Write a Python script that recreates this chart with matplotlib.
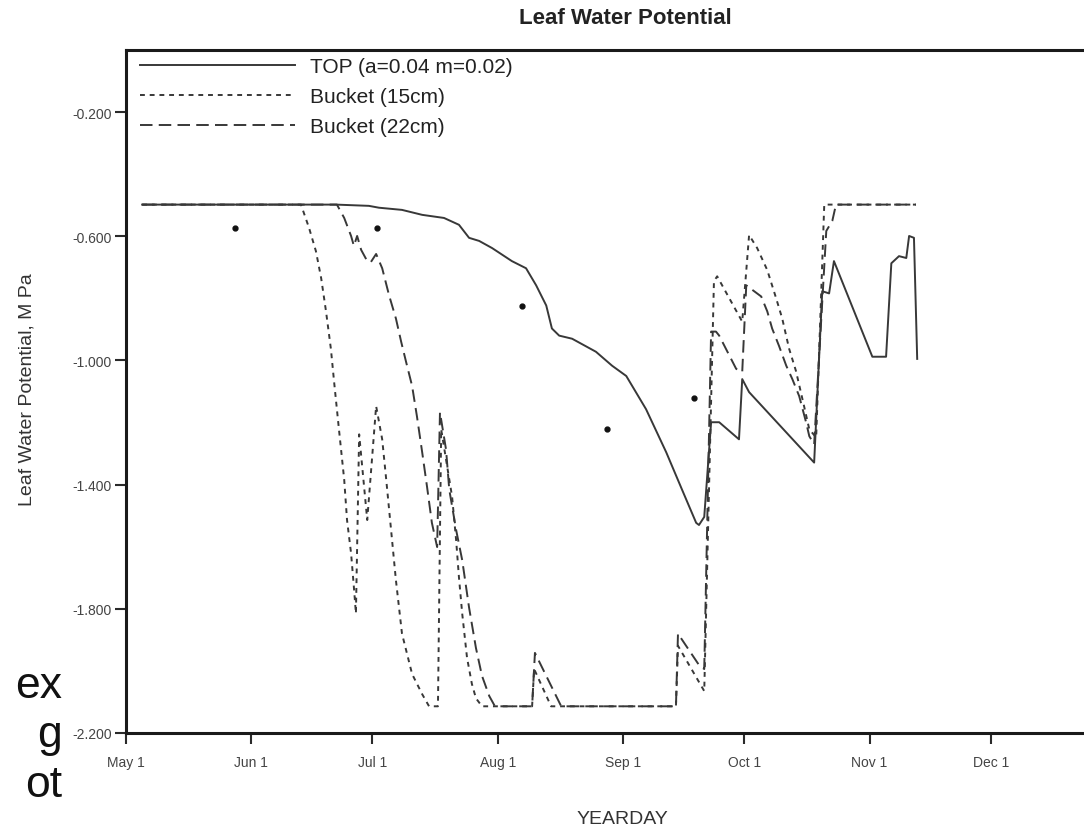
import matplotlib
matplotlib.use('Agg')
import matplotlib.pyplot as plt

plt.rcParams['font.family'] = ['Liberation Sans', 'DejaVu Sans']
plt.rcParams['lines.scale_dashes'] = False

# ---------------- data (yearday, leaf water potential MPa) ----------------
top_day = [125.0, 173.0, 181.1, 183.6, 189.3, 194.3, 199.7, 203.4, 205.9, 208.4,
           211.6, 216.5, 220.0, 222.5, 225.0, 226.4, 228.2, 231.4, 237.3, 241.3,
           244.8, 249.7, 254.7, 258.6, 262.1, 262.8, 264.1, 265.8, 267.8, 272.7,
           273.5, 275.2, 291.3, 293.3, 295.0, 296.2, 305.7, 309.1, 310.4, 312.3,
           314.1, 314.8, 316.0, 316.8]
top_lwp = [-0.498, -0.498, -0.502, -0.508, -0.515, -0.531, -0.541, -0.563, -0.605, -0.615,
           -0.638, -0.680, -0.703, -0.758, -0.823, -0.897, -0.920, -0.930, -0.972, -1.017,
           -1.050, -1.157, -1.296, -1.416, -1.523, -1.530, -1.504, -1.199, -1.199, -1.254,
           -1.060, -1.102, -1.329, -0.777, -0.784, -0.680, -0.988, -0.988, -0.687, -0.664,
           -0.670, -0.599, -0.605, -0.995]

b15_day = [125.0, 164.3, 166.3, 168.0, 169.3, 170.5, 171.7, 172.5, 173.7, 175.0,
           175.7, 176.7, 177.4, 177.9, 178.7, 180.7, 182.9, 184.4, 185.4, 186.6,
           187.8, 189.3, 191.8, 194.3, 196.0, 198.2, 199.0, 200.2, 201.7, 202.7,
           203.4, 204.2, 205.4, 206.6, 207.6, 209.1, 221.5, 222.0, 226.2, 257.1,
           257.6, 264.1, 266.5, 267.3, 273.5, 275.2, 277.2, 279.7, 281.9, 283.4,
           285.1, 286.8, 288.8, 290.1, 291.8, 293.8, 316.5]
b15_lwp = [-0.498, -0.498, -0.573, -0.648, -0.735, -0.842, -0.962, -1.069, -1.222, -1.384,
           -1.514, -1.621, -1.731, -1.815, -1.238, -1.514, -1.147, -1.254, -1.384, -1.546,
           -1.708, -1.880, -2.010, -2.075, -2.114, -2.114, -1.222, -1.319, -1.439, -1.579,
           -1.699, -1.815, -1.958, -2.042, -2.088, -2.114, -2.114, -1.994, -2.114, -2.114,
           -1.919, -2.065, -0.745, -0.729, -0.875, -0.596, -0.638, -0.709, -0.800, -0.865,
           -0.962, -1.034, -1.147, -1.222, -1.248, -0.498, -0.498]

b22_day = [125.0, 173.2, 175.0, 176.7, 177.4, 178.2, 179.2, 180.7, 181.6, 182.9,
           184.4, 186.1, 187.8, 189.1, 190.3, 191.8, 193.0, 194.3, 195.5, 196.7,
           198.0, 198.7, 200.2, 201.0, 202.7, 204.2, 205.9, 207.6, 209.1, 210.9,
           212.3, 221.5, 222.2, 228.7, 257.1, 257.6, 262.8, 264.1, 265.8, 267.0,
           267.8, 272.0, 273.5, 274.5, 278.2, 279.7, 280.9, 282.6, 284.4, 285.9,
           287.6, 289.3, 290.1, 291.3, 294.3, 295.8, 296.7, 316.5]
b22_lwp = [-0.498, -0.498, -0.541, -0.599, -0.631, -0.599, -0.644, -0.680, -0.683, -0.657,
           -0.703, -0.790, -0.865, -0.940, -1.004, -1.082, -1.180, -1.296, -1.407, -1.523,
           -1.601, -1.167, -1.287, -1.416, -1.546, -1.643, -1.796, -1.926, -2.016, -2.081,
           -2.114, -2.114, -1.942, -2.114, -2.114, -1.880, -1.981, -1.994, -0.907, -0.907,
           -0.920, -1.027, -1.037, -0.758, -0.794, -0.842, -0.897, -0.953, -1.017, -1.060,
           -1.115, -1.199, -1.244, -1.270, -0.583, -0.550, -0.498, -0.498]

obs_day = [148.0, 183.1, 219.0, 240.1, 261.6]
obs_lwp = [-0.573, -0.573, -0.823, -1.222, -1.121]

month_days = [121, 152, 182, 213, 244, 274, 305, 335]
month_labels = ['May 1', 'Jun 1', 'Jul 1', 'Aug 1', 'Sep 1', 'Oct 1', 'Nov 1', 'Dec 1']
ytick_vals = [-0.2, -0.6, -1.0, -1.4, -1.8, -2.2]
ytick_labels = ['-0.200', '-0.600', '-1.000', '-1.400', '-1.800', '-2.200']
series_labels = ['TOP (a=0.04 m=0.02)', 'Bucket (15cm)', 'Bucket (22cm)']
fragment_lines = ['ex', 'g', 'ot']

# ---------------- figure ----------------
W, H = 1084, 828
fig = plt.figure(figsize=(W / 100, H / 100), dpi=100)
ax = fig.add_axes([126 / W, 94 / H, 990 / W, 683 / H])

lc = '#383838'
ax.plot(top_day, top_lwp, color=lc, lw=1.4, ls='-', label=series_labels[0])
ax.plot(b15_day, b15_lwp, color=lc, lw=1.4, ls=(0, (3.5, 3.5)), label=series_labels[1])
ax.plot(b22_day, b22_lwp, color=lc, lw=1.4, ls=(0, (9, 4.5)), label=series_labels[2])
ax.plot(obs_day, obs_lwp, ls='none', marker='o', ms=3.5, color='#111111')

ax.set_xlim(121, 366)
ax.set_ylim(-2.2, 0.0)
ax.set_xticks(month_days)
ax.set_xticklabels(month_labels)
ax.set_yticks(ytick_vals)
ax.set_yticklabels(ytick_labels)
ax.tick_params(axis='both', direction='out', length=8, width=1.5, color='#2a2a2a',
               labelsize=10, labelcolor='#444444')
ax.tick_params(axis='x', pad=8)
ax.tick_params(axis='y', pad=2)
for s in ax.spines.values():
    s.set_linewidth(2.2)
    s.set_color('#1a1a1a')

leg = ax.legend(loc='upper left', bbox_to_anchor=((140 - 126) / 990, 1 - (58 - 51) / 683),
                borderaxespad=0, borderpad=0, frameon=False, fontsize=15,
                handlelength=7.45, handletextpad=0.72, labelspacing=0.53)
for t in leg.get_texts():
    t.set_color('#222222')

fig.text(625 / W, 1 - 19 / H, 'Leaf Water Potential', ha='center', va='center',
         fontsize=16, fontweight='bold', color='#222222')
fig.text(622 / W, 1 - 820 / H, 'YEARDAY', ha='center', va='center', fontsize=14,
         color='#333333')
fig.text(27 / W, 1 - 390 / H, 'Leaf Water Potential, M Pa', ha='center', va='center',
         rotation=90, fontsize=14, color='#333333')

# fragments of text from a neighbouring slide, cut by the left edge
for txt, base in zip(fragment_lines, [698, 747, 797]):
    fig.text(62 / W, 1 - base / H, txt, ha='right', va='baseline', fontsize=32,
             color='#111111')

fig.savefig('out.png', dpi=100)
